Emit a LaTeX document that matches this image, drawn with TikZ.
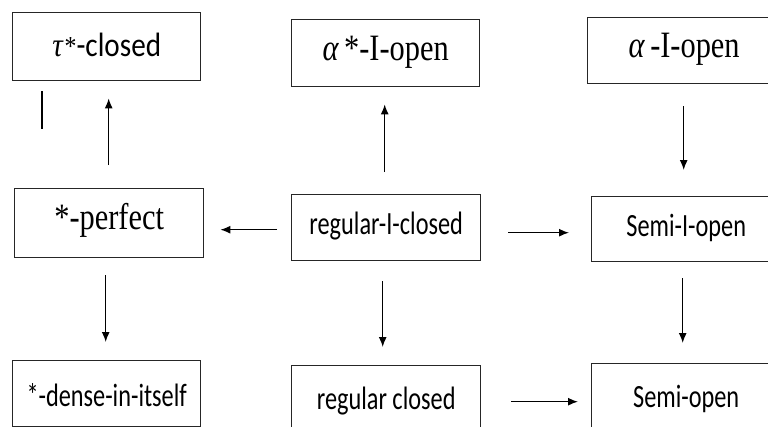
\documentclass[tikz,border=0pt]{standalone}
\usepackage{fontspec}
\setmainfont{Liberation Serif}
\newfontfamily\carlitofont{Carlito}
\usetikzlibrary{arrows.meta}
\newcommand{\sqz}[1]{\scalebox{0.9}[1.2]{#1}}
\newcommand{\tallser}[1]{\scalebox{0.98}[1.2]{#1}}
\tikzset{
  box/.style={draw=black!85, line width=1.4pt, inner sep=0pt, anchor=north west},
  arr/.style={draw=black, line width=1.3pt, -{Latex[length=10pt,width=8pt]}},
  serifbig/.style={font=\fontsize{31}{36}\selectfont},
  sansmid/.style={font=\carlitofont\fontsize{27}{32}\selectfont},
}
\begin{document}
\begin{tikzpicture}[x=1pt,y=-1pt]
\useasboundingbox (0,0) rectangle (768,426);
\clip (0,0) rectangle (768,426);
% boxes
\node[box, minimum width=188pt, minimum height=68pt] (tau) at (12,12) {};
\node at ([yshift=2pt]tau.center) {\scalebox{1.08}[1.25]{\fontsize{27}{32}\selectfont\textit{τ}\kern1pt\raisebox{1pt}{\fontsize{22}{26}\selectfont *}{\carlitofont\fontsize{27}{32}\selectfont -closed}}};
\node[box, minimum width=188pt, minimum height=67pt] (astar) at (291,19) {};
\node[serifbig] at ([yshift=1pt]astar.center) {\tallser{\textit{α}\,*-I-open}};
\node[box, minimum width=193pt, minimum height=66pt] (alpha) at (587,17) {};
\node[serifbig] at ([yshift=1pt]alpha.center) {\tallser{\textit{α}\,-I-open}};
\node[box, minimum width=189pt, minimum height=69pt] (perf) at (14,188) {};
\node[serifbig] at ([yshift=3pt]perf.center) {\tallser{*-perfect}};
\node[box, minimum width=189pt, minimum height=66pt] (regI) at (291,194) {};
\node[sansmid] at ([yshift=2pt]regI.center) {\sqz{regular-I-closed}};
\node[box, minimum width=189pt, minimum height=65pt] (semiI) at (591,196) {};
\node[sansmid] at ([yshift=1pt]semiI.center) {\sqz{Semi-I-open}};
\node[box, minimum width=188pt, minimum height=66pt] (dense) at (12,360) {};
\node[sansmid] at ([yshift=-1pt]dense.center) {\sqz{*-dense-in-itself}};
\node[box, minimum width=189pt, minimum height=66pt] (regc) at (291,365) {};
\node[sansmid] at ([yshift=-2pt]regc.center) {\sqz{regular closed}};
\node[box, minimum width=189pt, minimum height=66pt] (semio) at (591,363) {};
\node[sansmid] at ([yshift=-2pt]semio.center) {\sqz{Semi-open}};
% stray mark
\coordinate (m1) at (42,91);
\coordinate (m2) at (42,129);
\draw[line width=2pt] (m1) -- (m2);
% arrows
\draw[arr, shorten <=23pt, shorten >=17pt] ([xshift=-0.5pt]perf.north) -- ([xshift=-0.5pt]perf.north |- tau.south);
\draw[arr, shorten <=14pt, shorten >=16pt] ([yshift=-2pt]regI.west) -- ([yshift=-2pt]regI.west -| perf.east);
\draw[arr, shorten <=22pt, shorten >=17pt] ([xshift=-1.5pt]regI.north) -- ([xshift=-1.5pt]regI.north |- astar.south);
\draw[arr, shorten <=27pt, shorten >=22pt] ([yshift=-5pt]regI.east) -- ([yshift=-5pt]regI.east -| semiI.west);
\draw[arr, shorten <=20pt, shorten >=18pt] ([xshift=-3.5pt]regI.south) -- ([xshift=-3.5pt]regI.south |- regc.north);
\draw[arr, shorten <=30pt, shorten >=13pt] ([yshift=-3pt]regc.east) -- ([yshift=-3pt]regc.east -| semio.west);
\draw[arr, shorten <=22pt, shorten >=26pt] ([xshift=-0.5pt]alpha.south) -- ([xshift=-0.5pt]alpha.south |- semiI.north);
\draw[arr, shorten <=16pt, shorten >=20pt] ([xshift=-3.5pt]semiI.south) -- ([xshift=-3.5pt]semiI.south |- semio.north);
\draw[arr, shorten <=17pt, shorten >=18pt] ([xshift=-3.5pt]perf.south) -- ([xshift=-3.5pt]perf.south |- dense.north);
\end{tikzpicture}
\end{document}
